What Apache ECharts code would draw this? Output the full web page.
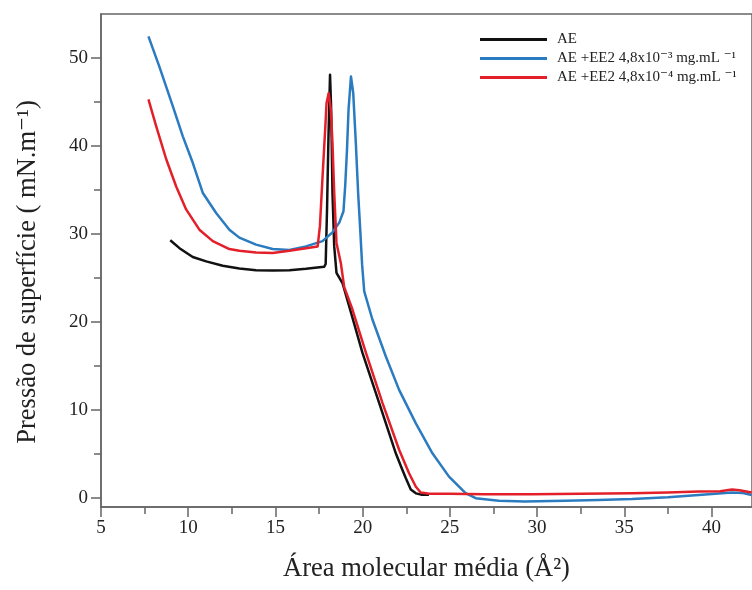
<!DOCTYPE html>
<html>
<head>
<meta charset="utf-8">
<script src="https://cdn.jsdelivr.net/npm/echarts@6/dist/echarts.min.js"></script>
<style>
  html, body { margin: 0; padding: 0; background: #ffffff; }
  #chart { width: 752px; height: 590px; }
</style>
</head>
<body>
<div id="chart"></div>
<script>
// ---- Data ----
var seriesNames = ['AE', 'AE +EE2 4,8x10\u207B\u00B3 mg.mL \u207B\u00B9', 'AE +EE2 4,8x10\u207B\u2074 mg.mL \u207B\u00B9'];

var aeX = [8.97, 9.5, 10.26, 11.03, 11.98, 12.93, 13.89, 14.84, 15.8, 16.75, 17.4, 17.8, 17.88, 17.96, 18.04, 18.13, 18.19, 18.23, 18.27, 18.37, 18.5, 18.85, 19.23, 19.99, 20.95, 21.9, 22.2, 22.47, 22.76, 23.05, 23.4, 23.8];
var aeY = [29.3, 28.4, 27.4, 26.9, 26.4, 26.1, 25.9, 25.85, 25.9, 26.05, 26.2, 26.3, 26.6, 33.0, 41.0, 48.1, 44.5, 40.0, 34.7, 28.6, 25.6, 24.4, 21.8, 16.5, 10.8, 5.1, 3.6, 2.3, 1.0, 0.55, 0.4, 0.4];

var ee3X = [7.72, 8.35, 9.12, 9.69, 10.26, 10.83, 11.6, 12.36, 12.93, 13.89, 14.84, 15.8, 16.75, 17.7, 18.27, 18.66, 18.9, 19.0, 19.1, 19.19, 19.33, 19.46, 19.61, 19.74, 19.86, 19.97, 20.09, 20.56, 21.33, 22.09, 23.05, 24.0, 24.95, 25.9, 26.48, 27.8, 29.3, 31.6, 33.5, 35.45, 37.5, 39.26, 41.17, 41.8, 42.3];
var ee3Y = [52.45, 49.0, 44.5, 41.1, 38.1, 34.7, 32.4, 30.5, 29.6, 28.8, 28.3, 28.2, 28.6, 29.2, 30.2, 31.3, 32.6, 35.5, 39.5, 44.1, 47.9, 46.0, 40.3, 34.7, 30.5, 26.5, 23.5, 20.3, 16.1, 12.3, 8.5, 5.1, 2.45, 0.57, 0.0, -0.3, -0.38, -0.3, -0.2, -0.1, 0.1, 0.37, 0.64, 0.6, 0.37];

var ee4X = [7.72, 8.17, 8.74, 9.31, 9.88, 10.64, 11.41, 12.36, 12.93, 13.89, 14.84, 15.8, 16.75, 17.42, 17.55, 17.7, 17.86, 17.93, 18.05, 18.18, 18.27, 18.37, 18.5, 18.75, 18.94, 19.42, 20.19, 21.14, 22.09, 22.66, 23.05, 23.33, 23.81, 24.95, 27.0, 29.7, 32.5, 35.4, 37.5, 39.26, 40.5, 41.17, 41.6, 42.3];
var ee4Y = [45.3, 42.2, 38.5, 35.4, 32.8, 30.5, 29.2, 28.3, 28.1, 27.9, 27.85, 28.1, 28.4, 28.6, 30.9, 36.5, 42.2, 44.9, 46.0, 44.1, 40.3, 34.7, 29.0, 26.7, 24.0, 21.4, 16.5, 10.8, 5.5, 2.84, 1.3, 0.64, 0.5, 0.5, 0.45, 0.45, 0.5, 0.57, 0.65, 0.75, 0.8, 1.0, 0.9, 0.64];

var xMajorTicks = [5, 10, 15, 20, 25, 30, 35, 40];
var xMinorTicks = [7.5, 12.5, 17.5, 22.5, 27.5, 32.5, 37.5, 42.5];
var yMajorTicks = [0, 10, 20, 30, 40, 50];
var yMinorTicks = [5, 15, 25, 35, 45];

var xTitle = '\u00C1rea molecular m\u00E9dia (\u00C5\u00B2)';
var yTitle = 'Press\u00E3o de superf\u00EDcie ( mN.m\u207B\u00B9)';

var seriesColors = ['#111111', '#2a7bc0', '#e3202a'];

// ---- Build ----
function pairs(xs, ys) {
  var out = [];
  for (var i = 0; i < xs.length; i++) out.push([xs[i], ys[i]]);
  return out;
}
var FONT = '"Liberation Serif", "Times New Roman", "DejaVu Serif", serif';
var AXIS_COLOR = '#666666';

var chart = echarts.init(document.getElementById('chart'), null, { renderer: 'canvas' });

var option = {
  animation: false,
  backgroundColor: '#ffffff',
  textStyle: { fontFamily: FONT },
  grid: {
    left: 101, top: 14, right: -1, bottom: 83,
    show: true, borderColor: AXIS_COLOR, borderWidth: 1.5, backgroundColor: 'transparent'
  },
  legend: {
    orient: 'vertical',
    left: 475,
    top: 26,
    itemWidth: 67,
    itemHeight: 3,
    itemGap: 2,
    icon: 'rect',
    data: seriesNames,
    textStyle: { fontFamily: FONT, fontSize: 15, color: '#222', lineHeight: 17, padding: [0, 0, 0, 5] }
  },
  xAxis: [
    {
      type: 'value', min: 5, max: 42.32, position: 'bottom',
      name: xTitle, nameLocation: 'middle', nameGap: 49,
      nameTextStyle: { fontFamily: FONT, fontSize: 26.5, color: '#222' },
      axisLine: { show: true, onZero: false, lineStyle: { color: AXIS_COLOR, width: 1.5 } },
      axisTick: { show: true, inside: false, length: 10, customValues: xMajorTicks, lineStyle: { color: AXIS_COLOR, width: 1.5 } },
      axisLabel: { show: true, margin: 12, customValues: xMajorTicks, fontFamily: FONT, fontSize: 19, color: '#222',
        formatter: function (v) { return (Math.abs(v % 5) < 1e-6) ? String(v) : ''; } },
      splitLine: { show: false }
    },
    {
      type: 'value', min: 5, max: 42.32, position: 'bottom', gridIndex: 0,
      axisLine: { show: false, onZero: false },
      axisTick: { show: true, inside: false, length: 7, customValues: xMinorTicks, lineStyle: { color: AXIS_COLOR, width: 1.5 } },
      axisLabel: { show: false },
      splitLine: { show: false }
    }
  ],
  yAxis: [
    {
      type: 'value', min: -1, max: 55, position: 'left',
      axisLine: { show: true, onZero: false, lineStyle: { color: AXIS_COLOR, width: 1.5 } },
      axisTick: { show: true, inside: false, length: 10, customValues: yMajorTicks, lineStyle: { color: AXIS_COLOR, width: 1.5 } },
      axisLabel: { show: true, margin: 13, customValues: yMajorTicks, fontFamily: FONT, fontSize: 19, color: '#222',
        formatter: function (v) { return (Math.abs(v % 10) < 1e-6) ? String(v) : ''; } },
      splitLine: { show: false }
    },
    {
      type: 'value', min: -1, max: 55, position: 'left',
      axisLine: { show: false, onZero: false },
      axisTick: { show: true, inside: false, length: 7, customValues: yMinorTicks, lineStyle: { color: AXIS_COLOR, width: 1.5 } },
      axisLabel: { show: false },
      splitLine: { show: false }
    }
  ],
  graphic: [
    {
      type: 'text',
      x: 28, y: 272,
      rotation: Math.PI / 2,
      style: { text: yTitle, x: 0, y: 0, align: 'center', verticalAlign: 'middle',
        font: '26.5px ' + FONT, fill: '#222' }
    }
  ],
  series: [
    { name: seriesNames[0], type: 'line', xAxisIndex: 0, yAxisIndex: 0, data: pairs(aeX, aeY),
      showSymbol: false, symbol: 'none', smooth: false, color: seriesColors[0], lineStyle: { width: 2.5, color: seriesColors[0], join: 'round' } },
    { name: seriesNames[1], type: 'line', xAxisIndex: 0, yAxisIndex: 0, data: pairs(ee3X, ee3Y),
      showSymbol: false, symbol: 'none', smooth: false, color: seriesColors[1], lineStyle: { width: 2.5, color: seriesColors[1], join: 'round' } },
    { name: seriesNames[2], type: 'line', xAxisIndex: 0, yAxisIndex: 0, data: pairs(ee4X, ee4Y),
      showSymbol: false, symbol: 'none', smooth: false, color: seriesColors[2], lineStyle: { width: 2.5, color: seriesColors[2], join: 'round' } }
  ]
};
chart.setOption(option);
</script>
</body>
</html>
